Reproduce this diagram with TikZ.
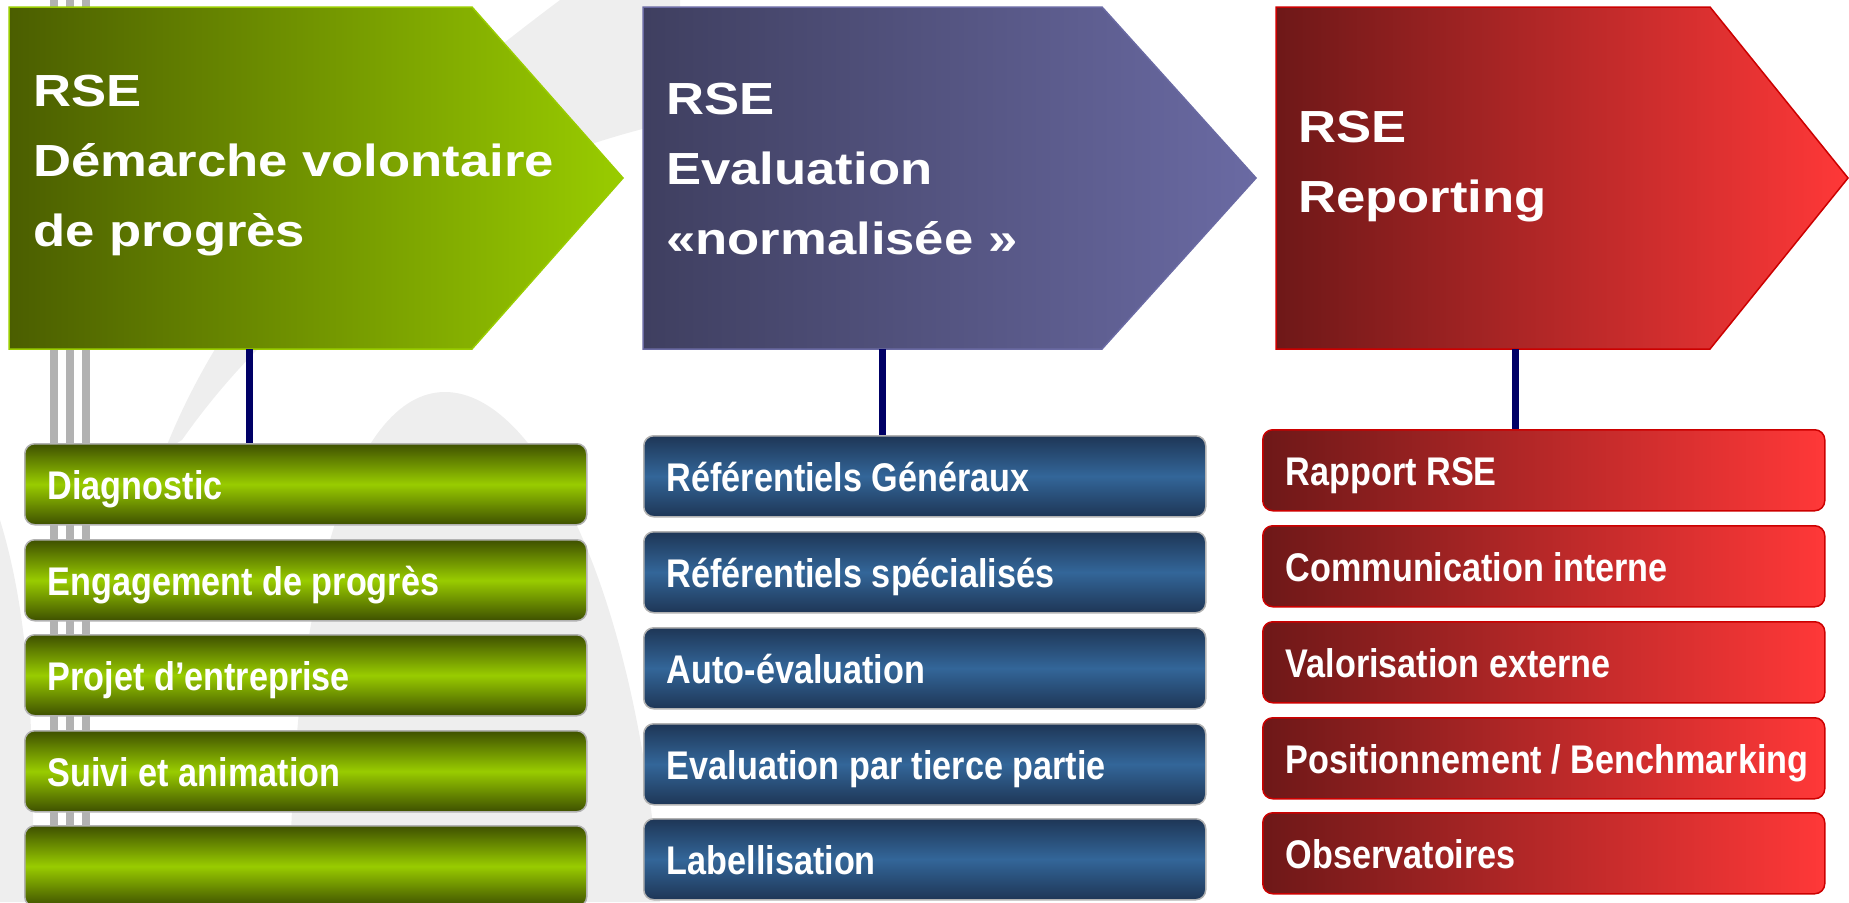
\documentclass[tikz,border=0pt]{standalone}
\usepackage{fontspec}
\setmainfont{Liberation Sans}
\newfontfamily\headfont{Liberation Sans}[FakeStretch=1.17]
\newfontfamily\itemfont{Liberation Sans}[FakeStretch=0.855]

\definecolor{olivedark}{HTML}{4B5E00}
\definecolor{limegreen}{HTML}{99CC00}
\definecolor{olivebox}{HTML}{3E5000}
\definecolor{slatedark}{HTML}{3F3F60}
\definecolor{slatelight}{HTML}{6A6AA3}
\definecolor{steeldark}{HTML}{1E3656}
\definecolor{steelmid}{HTML}{336699}
\definecolor{wine}{HTML}{6E1818}
\definecolor{brightred}{HTML}{FF3838}
\definecolor{borderred}{HTML}{CC0000}
\definecolor{navyline}{HTML}{000066}
\definecolor{railgrey}{HTML}{B2B2B2}
\definecolor{watermark}{HTML}{EEEEEE}

\begin{document}
\begin{tikzpicture}[x=1pt,y=-1pt,
  head/.style={text=white,align=left,anchor=north west,inner sep=0pt,
    font=\headfont\bfseries\fontsize{45}{70}\selectfont},
  item/.style={anchor=north west,rounded corners=10pt,line width=1.5pt,
    text width=516pt,inner xsep=23pt,minimum height=81pt,
    text height=30pt,text depth=0pt,align=flush left,text=white,
    font=\itemfont\bfseries\fontsize{40}{42}\selectfont},
  greenitem/.style={item,draw=black!30,top color=olivebox,bottom color=olivebox,middle color=limegreen},
  blueitem/.style={item,draw=black!30,top color=steeldark,bottom color=steeldark,middle color=steelmid},
  reditem/.style={item,draw=borderred,left color=wine,right color=brightred},
  link/.style={draw=navyline,line width=7pt}]

\useasboundingbox (0,0) rectangle (1849,902);

% faint logo in the background
\fill[watermark] (560,0) .. controls (400,120) and (240,260) .. (165,450)
  -- (182,440) .. controls (280,300) and (450,170) .. (680,120) -- (680,0) -- cycle;
\fill[watermark] (290,902) .. controls (290,600) and (350,392) .. (445,392)
  .. controls (540,392) and (640,600) .. (660,902) -- cycle;
\fill[watermark] (0,520) .. controls (40,650) and (30,800) .. (35,902) -- (0,902) -- cycle;

% rails on the left
\foreach \x in {54,70,86}
  \draw[railgrey,line width=8pt] (\x,0) -- (\x,902);

% the three arrows
\path[draw=limegreen,line width=1.5pt,left color=olivedark,right color=limegreen]
  (9,7) -- (472,7) -- (623,178) -- (472,349) -- (9,349) -- cycle;
\path[draw=slatelight,line width=1.5pt,left color=slatedark,right color=slatelight]
  (643,7) -- (1102,7) -- (1256,178) -- (1102,349) -- (643,349) -- cycle;
\path[draw=borderred,line width=1.5pt,left color=wine,right color=brightred]
  (1276,7) -- (1710,7) -- (1848,178) -- (1710,349) -- (1276,349) -- cycle;

\node[head] (demarche) at (33,75) {RSE\\Démarche volontaire\\de progrès};
\node[head] (evaluation) at (666,83) {RSE\\Evaluation\\«normalisée »};
\node[head] (reporting) at (1298,111) {RSE\\Reporting};

\coordinate (gfoot) at (249,349);
\coordinate (bfoot) at (882,349);
\coordinate (rfoot) at (1515,349);

% lists
\node[greenitem] (g1) at (24,443) {Diagnostic};
\node[greenitem] (g2) at (24,539) {Engagement de progrès};
\node[greenitem] (g3) at (24,634) {Projet d’entreprise};
\node[greenitem] (g4) at (24,730) {Suivi et animation};
\node[greenitem] (g5) at (24,825) {};

\node[blueitem] (b1) at (643,435) {Référentiels Généraux};
\node[blueitem] (b2) at (643,531) {Référentiels spécialisés};
\node[blueitem] (b3) at (643,627) {Auto-évaluation};
\node[blueitem] (b4) at (643,723) {Evaluation par tierce partie};
\node[blueitem] (b5) at (643,818) {Labellisation};

\node[reditem] (r1) at (1262,429) {Rapport RSE};
\node[reditem] (r2) at (1262,525) {Communication interne};
\node[reditem] (r3) at (1262,621) {Valorisation externe};
\node[reditem] (r4) at (1262,717) {\mbox{Positionnement / Benchmarking}};
\node[reditem] (r5) at (1262,812) {Observatoires};

\draw[link] (gfoot) -- (gfoot |- g1.north);
\draw[link] (bfoot) -- (bfoot |- b1.north);
\draw[link] (rfoot) -- (rfoot |- r1.north);

\end{tikzpicture}
\end{document}
